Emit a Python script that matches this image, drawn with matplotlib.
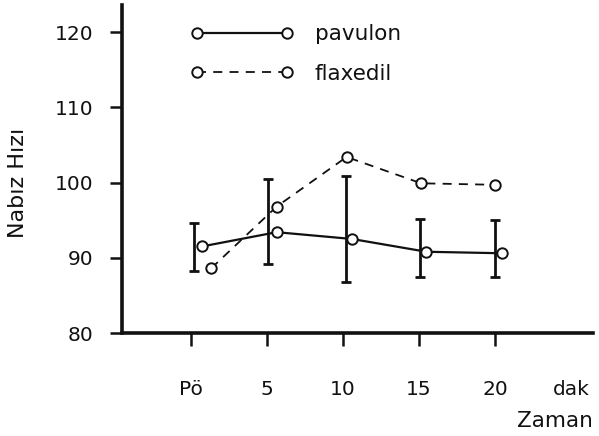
import matplotlib
matplotlib.use("Agg")
import matplotlib.pyplot as plt
from matplotlib.lines import Line2D

# ---- data ----
time_labels = ["Pö", "5", "10", "15", "20"]
unit_label = "dak"
ticks = [0, 1, 2, 3, 4]

pavulon_x = [0.145, 1.13, 2.12, 3.10, 4.09]
pavulon = [91.5, 93.4, 92.5, 90.8, 90.6]

flaxedil_x = [0.27, 1.13, 2.05, 3.03, 4.00]
flaxedil = [88.6, 96.8, 103.4, 99.9, 99.7]

err_x = [0.05, 1.02, 2.04, 3.02, 4.00]
err_low = [88.3, 89.2, 86.8, 87.5, 87.5]
err_high = [94.6, 100.5, 100.9, 95.2, 95.0]

yticks = [80, 90, 100, 110, 120]

plt.rcParams['font.family'] = ['DejaVu Sans']
ink = '#111111'

W, H = 599, 436
fig = plt.figure(figsize=(W / 100, H / 100), dpi=100)
ax = fig.add_axes([122 / W, 1 - 333 / H, (593 - 122) / W, (333 - 5) / H])

ax.set_xlim(-0.903, 5.29)
ax.set_ylim(80, 123.6)

# error bars
centers = [(lo + hi) / 2 for lo, hi in zip(err_low, err_high)]
lower = [c - lo for c, lo in zip(centers, err_low)]
upper = [hi - c for c, hi in zip(centers, err_high)]
ax.errorbar(err_x, centers, yerr=[lower, upper], fmt='none', ecolor=ink,
            elinewidth=2.0, capsize=3.5, capthick=2.0, zorder=2)

ax.plot(pavulon_x, pavulon, '-', color=ink, lw=1.6, marker='o', ms=7.5,
        mfc='white', mec=ink, mew=1.4, zorder=3)
ax.plot(flaxedil_x, flaxedil, '--', color=ink, lw=1.3, dashes=(5, 4),
        marker='o', ms=7.5, mfc='white', mec=ink, mew=1.4, zorder=3)

# spines
for s in ['top', 'right']:
    ax.spines[s].set_visible(False)
for s in ['left', 'bottom']:
    ax.spines[s].set_linewidth(2.6)
    ax.spines[s].set_color(ink)

ax.set_yticks(yticks)
ax.set_yticklabels([str(v) for v in yticks])
ax.set_xticks(ticks + [5])
ax.set_xticklabels(time_labels + [unit_label])
ax.xaxis.get_major_ticks()[-1].tick1line.set_visible(False)

ax.tick_params(axis='y', direction='out', length=8.5, width=1.8, pad=12,
               labelsize=14.5, colors=ink)
ax.tick_params(axis='x', direction='out', length=9, width=1.8, pad=25,
               labelsize=14.5, colors=ink)

# legend
handles = [
    Line2D([], [], color=ink, lw=1.6, ls='-', marker='o', ms=7.5,
           mfc='white', mec=ink, mew=1.4),
    Line2D([], [], color=ink, lw=1.3, ls=(0, (5, 4)), marker='o', ms=7.5,
           mfc='white', mec=ink, mew=1.4),
]
fig.legend(handles, ['pavulon', 'flaxedil'], loc='center left',
           bbox_to_anchor=(190.8 / W, 1 - 54 / H), frameon=False,
           numpoints=2, handlelength=4.75, handletextpad=1.0,
           labelspacing=0.92, borderpad=0, borderaxespad=0,
           prop={'size': 15.5}, labelcolor=ink)

fig.text(18 / W, 1 - 183 / H, 'Nabız Hızı', rotation=90, ha='center',
         va='center', fontsize=16, color=ink)
fig.text(593 / W, 1 - 421 / H, 'Zaman', ha='right', va='center',
         fontsize=15.5, color=ink)

fig.savefig('out.png', dpi=100, facecolor='white')
